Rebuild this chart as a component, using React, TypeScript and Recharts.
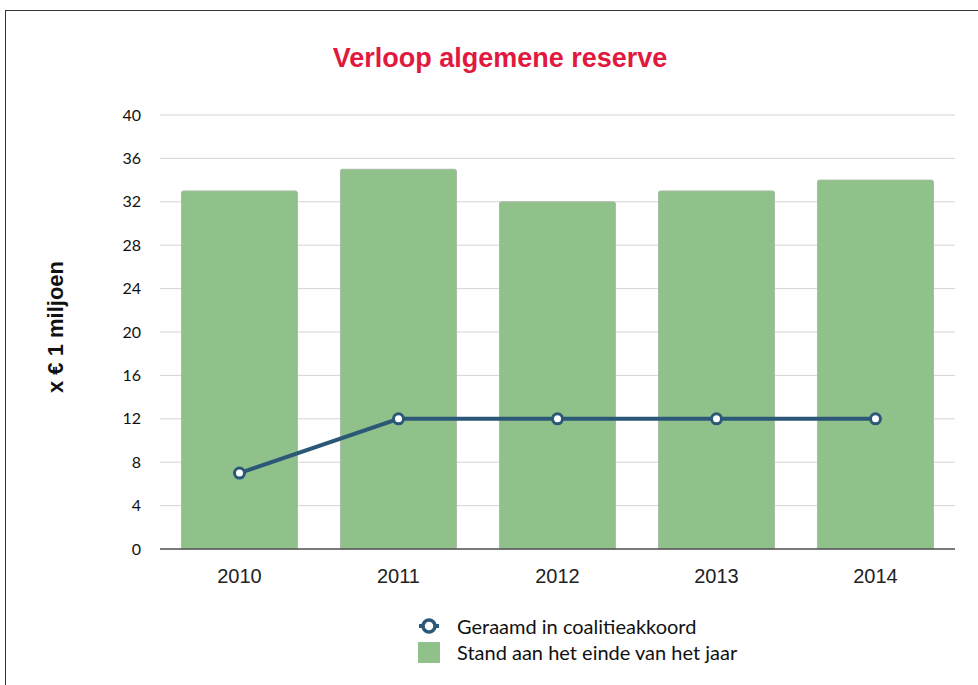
import React from "react";
import { ComposedChart, Bar, Line, XAxis, YAxis, CartesianGrid } from "recharts";

const years = ["2010", "2011", "2012", "2013", "2014"];
const standEindeJaar = [33, 35, 32, 33, 34];
const geraamd = [7, 12, 12, 12, 12];
const yTicks = [0, 4, 8, 12, 16, 20, 24, 28, 32, 36, 40];

const data = years.map((y, i) => ({ year: y, stand: standEindeJaar[i], geraamd: geraamd[i] }));

const LINE = "#2c5878";
const BAR = "#90c18b";

export default function App() {
  return (
    <div style={{ position: "absolute", left: 0, top: 0, width: 978, height: 685, overflow: "hidden", background: "#fff" }}>
      <div style={{ position: "absolute", left: 5, top: 10, width: 1000, height: 700, border: "1.5px solid #333", boxSizing: "border-box" }} />
      <div style={{ position: "absolute", left: 0, top: 43, width: 1000, textAlign: "center", fontFamily: "'Liberation Sans', Arial, sans-serif", fontWeight: "bold", fontSize: 27, color: "#e2193f" }}>
        Verloop algemene reserve
      </div>
      <div style={{ position: "absolute", left: 56, top: 327, transform: "translate(-50%, -50%) rotate(-90deg)", whiteSpace: "nowrap", fontFamily: "'Liberation Sans', Arial, sans-serif", fontWeight: "bold", fontSize: 22, color: "#111" }}>
        x € 1 miljoen
      </div>
      <div style={{ position: "absolute", left: 0, top: 0 }}>
        <ComposedChart width={978} height={685} data={data} margin={{ top: 115, right: 23, left: 100, bottom: 96 }} barCategoryGap="13.5%">
          <CartesianGrid vertical={false} stroke="#d4d4d4" strokeWidth={1} />
          <XAxis dataKey="year" height={40} axisLine={{ stroke: "#555", strokeWidth: 1.5 }} tickLine={false} tickSize={6} tickMargin={14}
            tick={{ fontFamily: "'Liberation Sans', Arial, sans-serif", fontSize: 20, fill: "#222" }} />
          <YAxis width={60} domain={[0, 40]} ticks={yTicks} axisLine={false} tickLine={false} tickSize={6} tickMargin={13} interval={0}
            tick={{ fontFamily: "Lato, sans-serif", fontSize: 16, fill: "#111" }} />
          <Bar dataKey="stand" fill={BAR} stroke="#a9bca6" strokeWidth={1} radius={[2, 2, 0, 0]} isAnimationActive={false} />
          <Line dataKey="geraamd" type="linear" stroke={LINE} strokeWidth={4} dot={{ r: 5, fill: "#fff", stroke: LINE, strokeWidth: 3 }} isAnimationActive={false} />
        </ComposedChart>
      </div>
      <div style={{ position: "absolute", left: 416, top: 613, fontFamily: "Lato, sans-serif", fontSize: 20, color: "#111", lineHeight: "26px" }}>
        <div style={{ display: "flex", alignItems: "center" }}>
          <svg width={26} height={26} style={{ marginRight: 15 }}>
            <line x1={3} y1={13} x2={23} y2={13} stroke={LINE} strokeWidth={4} />
            <circle cx={13} cy={13} r={6} fill="#fff" stroke={LINE} strokeWidth={3.5} />
          </svg>
          <span>Geraamd in coalitieakkoord</span>
        </div>
        <div style={{ display: "flex", alignItems: "center" }}>
          <svg width={26} height={26} style={{ marginRight: 15 }}>
            <rect x={2} y={3} width={22} height={21} fill={BAR} />
          </svg>
          <span>Stand aan het einde van het jaar</span>
        </div>
      </div>
    </div>
  );
}
